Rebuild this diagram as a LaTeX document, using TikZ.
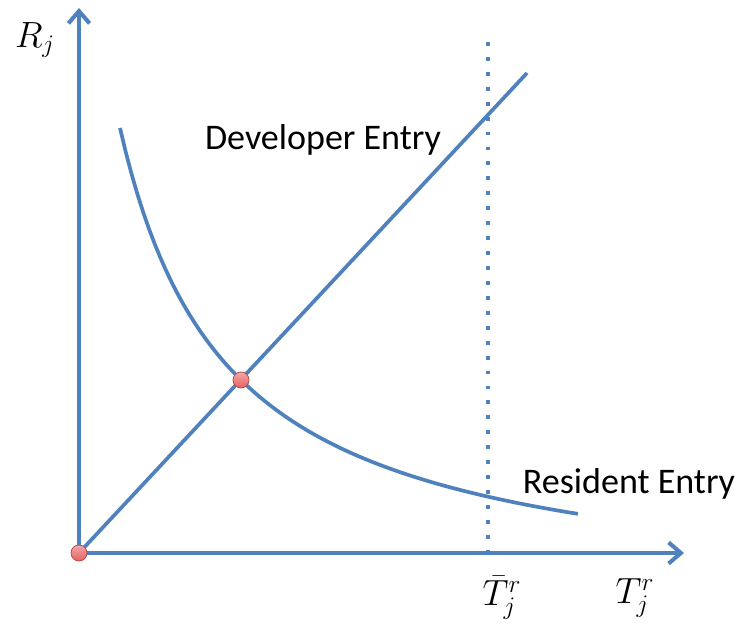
\documentclass[tikz,border=0pt]{standalone}
\usepackage{amsmath}
\usepackage{fontspec}
\setmainfont{Carlito}
\usetikzlibrary{arrows.meta}

\definecolor{axisblue}{RGB}{79,129,189}
\definecolor{dotred}{RGB}{232,96,96}

\begin{document}
\begin{tikzpicture}[
  curve/.style={draw=axisblue,line width=2.1pt},
  axis/.style={curve,line width=2.3pt,-{Straight Barb[length=7pt,width=12pt,line width=2.3pt]}},
  eqdot/.style={draw=dotred!75!black,top color=dotred!55!white,bottom color=dotred,shape=circle,inner sep=0pt,minimum size=0.32cm,line width=0.4pt},
  lbl/.style={font=\fontsize{20.5}{24}\selectfont,inner sep=0pt},
  mlbl/.style={font=\fontsize{22}{26}\selectfont,inner sep=0pt}
]
\useasboundingbox (-1.58,-1.44) rectangle (13.18,11.06);

\coordinate (O) at (0, 0);
\coordinate (ytop) at (0, 10.9);
\coordinate (xend) at (12.1, 0);
\coordinate (devend) at (8.96, 9.6);
\coordinate (bartop) at (8.18, 10.22);
\coordinate (barbot) at (8.18, 0);

\node (Rj) at (-0.88, 10.26) [mlbl]{$R_j$};
\node (dev) at (4.88, 8.26) [lbl]{Developer Entry};
\node (res) at (11.0, 1.38) [lbl]{Resident Entry};
\node (Tbar) at (8.46, -0.9) [mlbl]{$\bar{T}_j^r$};
\node (Tj) at (11.12, -0.9) [mlbl]{$T_j^r$};

\draw [axisblue,line width=2.2pt,dash pattern=on 2.2pt off 6.3pt] (bartop) -- (barbot);

\draw [curve] plot[domain=0.82:9.98,samples=80] (\x, {-1.038+20.605/(\x+1.34)});
\draw [curve] (O) -- (devend);

\draw [axis] (O) -- (ytop);
\draw [axis] (O) -- (xend);

\node (eq) at (3.24, 3.46) [eqdot]{};
\node (O0) at (O) [eqdot]{};

\end{tikzpicture}
\end{document}
